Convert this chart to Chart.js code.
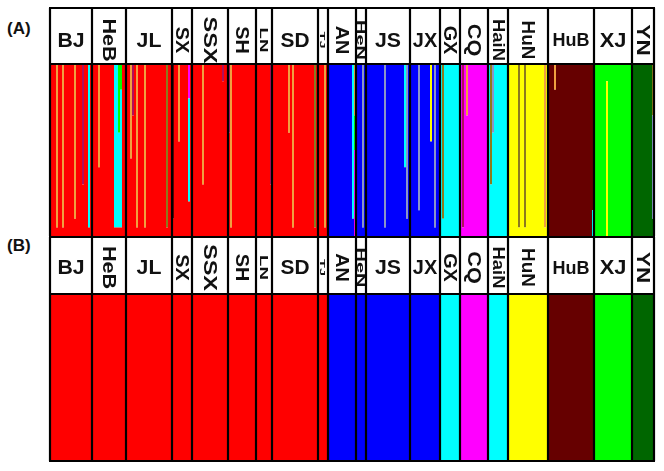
<!DOCTYPE html>
<html>
<head>
<meta charset="utf-8">
<script src="https://cdn.jsdelivr.net/npm/chart.js@4.4.1/dist/chart.umd.min.js"></script>
<style>
    body { margin: 0; background: #fff; }
    #wrap { position: relative; width: 664px; height: 471px; overflow: hidden; }
    canvas { position: absolute; left: 0; }
    .panel-tag { position: absolute; left: 7px; font: bold 17px "Liberation Sans", Arial, sans-serif; color: #111; }
</style>
</head>
<body>
<div id="wrap">
    <div class="panel-tag" style="top:19px">(A)</div>
    <div class="panel-tag" style="top:236px">(B)</div>
    <canvas id="chartA" style="top:0" width="664" height="236"></canvas>
    <canvas id="chartB" style="top:236px" width="664" height="235"></canvas>
</div>
<script>
// Populations, number of individuals in each, and the cluster each is assigned to
const groups = ['BJ', 'HeB', 'JL', 'SX', 'SSX', 'SH', 'LN', 'SD', 'TJ', 'AN',
                'HeN', 'JS', 'JX', 'GX', 'CQ', 'HaiN', 'HuN', 'HuB', 'XJ', 'YN'];
const groupSizes = [21, 17, 23, 10, 18, 14, 8, 23, 5, 14,
                    5, 22, 15, 10, 14, 10, 20, 23, 19, 11];
const groupCluster = [0, 0, 0, 0, 0, 0, 0, 0, 0, 1,
                      1, 1, 1, 2, 3, 2, 4, 5, 6, 7];

// Cluster colours (0-7 main clusters, 8-11 minor ones seen in panel A)
const clusterColors = ['#ff0000', '#0000ff', '#00ffff', '#ff00ff', '#ffff00', '#660000',
                       '#00ff00', '#006600', '#f0a040', '#b0105a', '#8a94c8', '#8c7a1e'];

// Admixed individuals in panel A: [population, position, cluster, share]
const admixture = [
    ['BJ', 3, 8, 0.95], ['BJ', 6, 8, 0.95], ['BJ', 12, 8, 0.9], ['BJ', 16, 9, 0.7], ['BJ', 19, 2, 0.95],
    ['HeB', 3, 8, 0.6], ['HeB', 11, 2, 0.95], ['HeB', 12, 2, 0.95], ['HeB', 13, 2, 0.55], ['HeB', 13, 6, 0.4],
    ['HeB', 14, 2, 0.8], ['HeB', 14, 6, 0.15],
    ['JL', 2, 8, 0.55], ['JL', 3, 9, 0.3], ['JL', 5, 8, 0.95], ['JL', 9, 8, 0.95], ['JL', 20, 11, 0.95],
    ['SX', 0, 5, 0.9], ['SX', 3, 8, 0.45], ['SX', 8, 2, 0.6], ['SX', 8, 3, 0.2],
    ['SSX', 5, 8, 0.7], ['SSX', 15, 9, 0.1],
    ['SH', 0, 9, 0.4], ['SH', 1, 8, 0.95],
    ['LN', 7, 9, 0.7],
    ['SD', 8, 8, 0.4], ['SD', 10, 8, 0.95], ['SD', 21, 11, 0.95],
    ['TJ', 3, 8, 0.95],
    ['AN', 12, 2, 0.9], ['AN', 13, 3, 0.5], ['AN', 13, 6, 0.2], ['AN', 13, 8, 0.3],
    ['HeN', 3, 10, 0.95],
    ['JS', 9, 10, 0.95], ['JS', 19, 2, 0.6], ['JS', 20, 10, 0.9],
    ['JX', 4, 10, 0.85], ['JX', 10, 4, 0.45], ['JX', 12, 10, 0.95],
    ['GX', 1, 11, 0.9],
    ['CQ', 1, 9, 0.95], ['CQ', 3, 8, 0.3],
    ['HaiN', 1, 11, 0.7], ['HaiN', 2, 10, 0.4],
    ['HuN', 5, 11, 0.95], ['HuN', 8, 11, 0.95], ['HuN', 18, 8, 0.95],
    ['HuB', 3, 8, 0.15], ['HuB', 22, 2, 0.15],
    ['XJ', 6, 4, 0.9],
    ['YN', 10, 10, 0.6], ['YN', 10, 11, 0.3]
];

// Header label styling per population: [rotated, font size, stretch along text]
const labelStyle = {
    BJ: [false, 19, 1.12], HeB: [true, 18, 1.2], JL: [false, 19, 1.12], SX: [true, 18, 1.1],
    SSX: [true, 18, 1.3], SH: [true, 18, 1.1], LN: [true, 11, 1.7], SD: [false, 19, 1.1],
    TJ: [true, 8, 1.8], AN: [true, 18, 1.1], HeN: [true, 10, 2.0], JS: [false, 19, 1.12],
    JX: [false, 19, 1.05], GX: [true, 18, 1.1], CQ: [true, 18, 1.2], HaiN: [true, 16, 1.15],
    HuN: [true, 18, 1.05], HuB: [false, 18, 1.0], XJ: [false, 19, 1.15], YN: [true, 18, 1.25]
};

/**
 * Build individual labels and group start indices
 */
const groupStarts = [];
const individuals = [];
groupSizes.forEach((n, g) => {
    groupStarts.push(individuals.length);
    for (let i = 0; i < n; i++) individuals.push(groups[g] + '-' + (i + 1));
});

/**
 * Build membership datasets for one panel
 */
function buildMemberships(withAdmixture) {
    const rows = [];
    groupSizes.forEach((n, g) => {
        for (let i = 0; i < n; i++) {
            const row = new Array(clusterColors.length).fill(0);
            let rest = 1;
            if (withAdmixture) {
                admixture.forEach(([pop, pos, k, share]) => {
                    if (pop === groups[g] && pos === i) { row[k] += share; rest -= share; }
                });
            }
            row[groupCluster[g]] += rest;
            rows.push(row);
        }
    });
    return clusterColors.map((c, k) => ({
        data: rows.map(r => r[k]),
        backgroundColor: c,
        borderWidth: 0,
        inflateAmount: 0,
        barPercentage: 1,
        categoryPercentage: 1
    }));
}

/**
 * Plugin: header boxes, population labels and separators
 */
const structurePlugin = {
    id: 'structureFrame',
    afterDraw(chart, args, opts) {
        const ctx = chart.ctx;
        const area = chart.chartArea;
        const x = chart.scales.x;
        const headTop = opts.headTop;
        const bounds = groupStarts.map(s => s === 0 ? area.left :
            (x.getPixelForValue(s - 1) + x.getPixelForValue(s)) / 2);
        bounds.push(area.right);

        ctx.save();
        ctx.fillStyle = '#fff';
        ctx.fillRect(area.left, headTop, area.right - area.left, area.top - headTop);
        ctx.strokeStyle = '#000';
        ctx.lineWidth = 2;
        ctx.strokeRect(area.left, headTop, area.right - area.left, area.top - headTop);

        ctx.lineWidth = 2.2;
        ctx.beginPath();
        bounds.forEach(b => {
            ctx.moveTo(b, headTop);
            ctx.lineTo(b, area.bottom);
        });
        if (opts.bottomLine) {
            ctx.moveTo(area.left - 1, area.bottom);
            ctx.lineTo(area.right + 1, area.bottom);
        }
        ctx.stroke();

        // population labels
        ctx.fillStyle = '#111';
        ctx.textAlign = 'center';
        ctx.textBaseline = 'middle';
        const cy = (headTop + area.top) / 2 + opts.labelShift;
        groups.forEach((name, g) => {
            const cx = (bounds[g] + bounds[g + 1]) / 2;
            const [rotated, size, stretch] = labelStyle[name];
            ctx.font = 'bold ' + size + 'px "Liberation Sans", Arial, sans-serif';
            ctx.save();
            ctx.translate(cx, cy);
            if (rotated) ctx.rotate(Math.PI / 2);
            ctx.scale(stretch, rotated ? 1 : 1.05);
            ctx.fillText(name, 0, 1);
            ctx.restore();
        });
        ctx.restore();
    }
};

function makeChart(id, withAdmixture, padTop, padBottom, headTop, labelShift, bottomLine) {
    return new Chart(document.getElementById(id), {
        type: 'bar',
        data: { labels: individuals, datasets: buildMemberships(withAdmixture) },
        options: {
            responsive: false,
            animation: false,
            devicePixelRatio: 1,
            layout: { padding: { left: 50, right: 10, top: padTop, bottom: padBottom } },
            plugins: {
                legend: { display: false },
                tooltip: { enabled: false },
                structureFrame: { headTop: headTop, labelShift: labelShift, bottomLine: bottomLine }
            },
            scales: {
                x: { stacked: true, display: false },
                y: { stacked: true, display: false, min: 0, max: 1 }
            }
        },
        plugins: [structurePlugin]
    });
}

makeChart('chartA', true, 64, 0, 8, 4, false);
makeChart('chartB', false, 58, 10, 1, 2, true);
</script>
</body>
</html>
